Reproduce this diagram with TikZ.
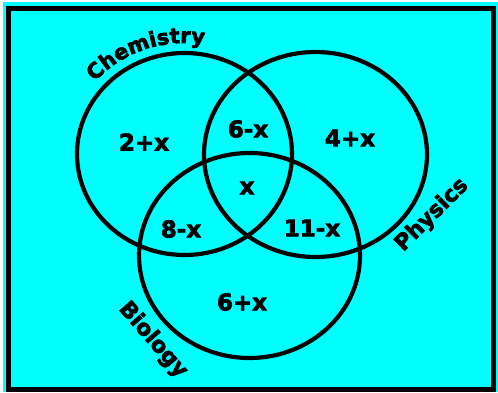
\documentclass[tikz,border=0pt]{standalone}
\usepackage{fontspec}
\setmainfont{DejaVu Sans}
\usetikzlibrary{shapes.geometric,decorations.text,calc}
\definecolor{bgcyan}{RGB}{0,255,255}
\newfontfamily\labfont{DejaVu Sans Bold}[FakeBold=3]
\tikzset{
  setring/.style={ellipse, draw=black, line width=4.2pt, inner sep=0pt},
  region/.style={font=\labfont\fontsize{23}{23}\selectfont, inner sep=0pt},
  setname/.style={font=\labfont\fontsize{22}{22}\selectfont, inner sep=0pt},
}
\begin{document}
\begin{tikzpicture}[x=1pt,y=1pt]
\useasboundingbox (0,0) rectangle (498,392);
\fill[white] (0,0) rectangle (498,392);
\fill[bgcyan] (3,0) rectangle (498,390);
\draw[line width=5pt] (8.5,2.5) rectangle (493,383.5);
% sets
\node[setring, minimum width=215pt, minimum height=202pt] (chem) at (184.5,238) {};
\node[setring, minimum width=223pt, minimum height=205pt] (phys) at (315.5,237.5) {};
\node[setring, minimum width=221pt, minimum height=205pt] (bio) at (249.5,136.5) {};
% regions
\node[region] (c) at (144,250) {2+x};
\node[region] (cp) at (248,263) {6-x};
\node[region] (p) at (350,254) {4+x};
\node[region] (cpb) at (247,204) {x};
\node[region] (cb) at (181,163) {8-x};
\node[region] (pb) at (312,164) {11-x};
\node[region] (b) at (242,90) {6+x};
% set names
\path[decorate, decoration={text along path, text align=center,
  text format delimiters={|}{|},
  text={|\labfont\fontsize{21}{21}\selectfont|Chemistry}}]
  ($(chem.center)+(145:118 and 111)$) arc[start angle=145, end angle=75, x radius=118, y radius=111];
\node[setname, rotate=45] (physname) at (432,177) {Physics};
\node[setname, rotate=-49] (bioname) at (153,52) {Biology};
\end{tikzpicture}
\end{document}
